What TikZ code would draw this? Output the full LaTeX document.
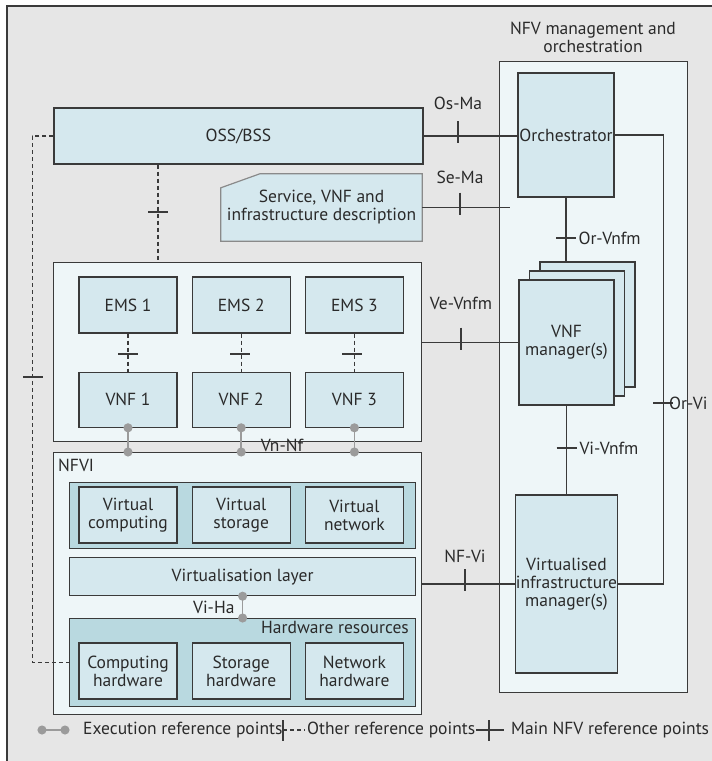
\documentclass[tikz,border=0pt]{standalone}
\usepackage{fontspec}
\setmainfont{PT Sans}
\usetikzlibrary{positioning, arrows.meta}
\definecolor{bggray}{HTML}{E6E6E6}
\definecolor{pale}{HTML}{EEF6F8}
\definecolor{boxblue}{HTML}{D5E8EE}
\definecolor{deepblue}{HTML}{B9D9E0}
\definecolor{edge}{HTML}{3A3A3A}
\definecolor{descedge}{HTML}{8A8A8A}
\definecolor{dotgray}{HTML}{9B9B9B}
\definecolor{txt}{HTML}{2A2A2A}

\begin{document}
\begin{tikzpicture}[x=1pt, y=-1pt,
     font = \fontsize{17.5}{18}\selectfont,
     node distance = 14pt and 14pt,
every node/.style = {text=txt},
        box/.style = {rectangle, draw=edge, line width=1.2pt, fill=#1, inner sep=0pt,
                      minimum width=98pt, minimum height=56pt, align=center},
      box/.default = boxblue,
       cont/.style = {rectangle, draw=edge, line width=1.2pt, fill=#1, inner sep=0pt,
                      anchor=north west},
       main/.style = {draw=edge, line width=1.2pt},
      other/.style = {main, dash pattern=on 4pt off 3pt},
       exec/.style = {draw=dotgray, line width=1.6pt, {Circle[length=9pt]}-{Circle[length=9pt]},
                      shorten <=-4.5pt, shorten >=-4.5pt},
        vtick/.pic = {\draw[main, solid] (0,-15) -- (0,7);},
        ltick/.pic = {\draw[main, solid] (0,-10) -- (0,11);},
        htick/.pic = {\draw[main, solid] (-10,0) -- (10,0);}
                        ]
\useasboundingbox (0,0) rectangle (712,761);
\fill[white] (0,0) rectangle (712,761);
\draw[main, fill=bggray] (7,6) rectangle (730,780);

% management and orchestration
\node (mano) [cont=pale, minimum width=188pt, minimum height=631pt] at (499,61) {};
\node (manolbl) [align=center, anchor=south] at (593,56) {NFV management and\\orchestration};
\node (orch) [box, minimum width=96pt, minimum height=124pt] at (566,135) {Orchestrator};
\node (vnfmc) [box, minimum width=95pt, minimum height=125pt] at (587.5,324.5) {};
\node (vnfmb) [box, minimum width=95pt, minimum height=125pt] at (577,333.5) {};
\node (vnfm) [box, minimum width=95pt, minimum height=125pt] at (566.5,342.5) {VNF\\manager(s)};
\node (vim) [box, minimum width=95pt, minimum height=178pt] at (566.5,584) {Virtualised\\infrastructure\\manager(s)};

% OSS/BSS and descriptions
\node (oss) [box, minimum width=369pt] at (238.5,136) {OSS/BSS};
\node (desc) [rectangle, inner sep=0pt, minimum width=201pt, minimum height=67pt] at (321.5,207.5) {};
\filldraw[fill=boxblue, draw=descedge, line width=1.2pt]
  ([yshift=-14pt]desc.north west) -- ([xshift=39pt]desc.north west) -- (desc.north east)
  -- (desc.south east) -- (desc.south west) -- cycle;
\node (desctxt) [align=center] at (desc.center) {Service, VNF and\\infrastructure description};

% EMS and VNF
\node (emsc) [cont=pale, minimum width=368pt, minimum height=179pt] at (53,262) {};
\node (ems1) [box] at (128,305) {EMS 1};
\node (ems2) [box, right=of ems1] {EMS 2};
\node (ems3) [box, right=of ems2] {EMS 3};
\node (vnf1) [box, minimum height=55pt, below=38pt of ems1] {VNF 1};
\node (vnf2) [box, minimum height=55pt, below=38pt of ems2] {VNF 2};
\node (vnf3) [box, minimum height=55pt, below=38pt of ems3] {VNF 3};

% NFVI
\node (nfvi) [cont=pale, minimum width=368pt, minimum height=262pt] at (53,452) {};
\node (nfvilbl) [anchor=north west, inner sep=0pt] at (58,459) {NFVI};
\node (virt) [cont=deepblue, minimum width=346pt, minimum height=66pt] at (69,482) {};
\node (vcomp) [box] at (128,515) {Virtual\\computing};
\node (vstor) [box, right=of vcomp] {Virtual\\storage};
\node (vnet) [box, right=of vstor] {Virtual\\network};
\node (vlayer) [box, anchor=north west, minimum width=346pt, minimum height=38pt] at (69,557) {Virtualisation layer};
\node (hw) [cont=deepblue, minimum width=346pt, minimum height=88pt] at (69,618) {};
\node (hwlbl) [anchor=north east, inner sep=0pt] at (409,621) {Hardware resources};
\node (hcomp) [box] at (128,671) {Computing\\hardware};
\node (hstor) [box, right=of hcomp] {Storage\\hardware};
\node (hnet) [box, right=of hstor] {Network\\hardware};

% execution reference points
\foreach \v in {vnf1,vnf2,vnf3}
  \draw[exec] (\v.south) -- (\v.south |- nfvi.north);
\node (vnnf) at (282,445) {Vn-Nf};
\draw[exec] (vlayer.south) -- (vlayer.south |- hw.north);
\node (viha) [anchor=east] at (238,607) {Vi-Ha};

% other reference points
\draw[other] (oss.west) -- ++(-21,0) |- (hw.west);
\pic at (33,377) {htick};
\draw[other] ([xshift=-80.5pt]oss.south) -- ([xshift=-80.5pt]oss.south |- emsc.north);
\pic at (158,212) {htick};
\foreach \i in {1,2,3}
  \draw[other] (ems\i) -- (vnf\i);
\foreach \x in {128,240,352}
  \pic at (\x,354) {htick};

% main reference points
\draw[main] (oss.east) -- (oss.east -| orch.west);
\pic at (458,136) {vtick};
\node (osma) at (458,103) {Os-Ma};
\draw[main] (desc.east) -- ++(88,0);
\pic at (460,207.5) {vtick};
\node (sema) at (460,177) {Se-Ma};
\draw[main] (orch.south) -- (orch.south |- vnfmc.north);
\pic at (566,238) {htick};
\node (orvnfm) [anchor=west] at (575,238) {Or-Vnfm};
\draw[main] (vnfm.west -| emsc.east) -- (vnfm.west);
\pic at (461,342.5) {vtick};
\node (vevnfm) at (461,303) {Ve-Vnfm};
\draw[main] (vnfm) -- (vim);
\pic at (566.5,448) {htick};
\node (vivnfm) [anchor=west] at (576,448) {Vi-Vnfm};
\draw[main] (orch.east) -- ++(49,0) |- (vim.east);
\pic at (663,403) {htick};
\node (orvi) [anchor=west, inner sep=0pt] at (669,403) {Or-Vi};
\draw[main] (vim.west -| nfvi.east) -- (vim.west);
\pic at (465,584) {vtick};
\node (nfvi) at (465,556) {NF-Vi};

% legend
\coordinate (ex1) at (42,730);
\coordinate (ex2) at (65,730);
\draw[exec] (ex1) -- (ex2);
\node (exlbl) [anchor=west, inner sep=0pt] at (83,730) {Execution reference points};
\coordinate (ot1) at (283,730);
\coordinate (ot2) at (305,730);
\draw[other] (ot1) -- (ot2);
\pic at (ot1) {ltick};
\node (otlbl) [anchor=west, inner sep=0pt] at (307,730) {Other reference points};
\coordinate (mn1) at (476,730);
\coordinate (mn2) at (504,730);
\draw[main] (mn1) -- (mn2);
\pic at (489,730) {ltick};
\node (mnlbl) [anchor=west, inner sep=0pt] at (511,730) {Main NFV reference points};
\end{tikzpicture}
\end{document}
